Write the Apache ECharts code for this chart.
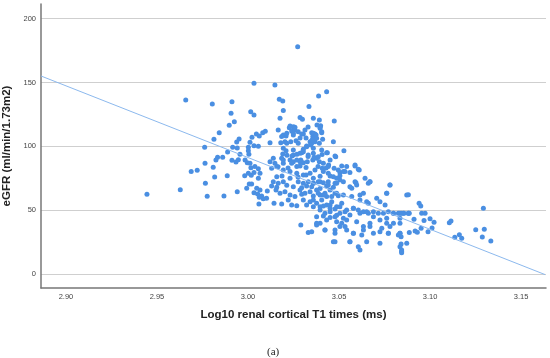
<!DOCTYPE html>
<html>
<head>
<meta charset="utf-8">
<script src="https://cdn.jsdelivr.net/npm/echarts@6/dist/echarts.min.js"></script>
<style>html,body{margin:0;padding:0;background:#fff}#c{width:550px;height:358px}</style>
</head>
<body>
<div id="c"></div>
<script>
// Log10 renal cortical T1 times (ms)
const t1Log = [
2.9445,2.9628,2.9688,2.9721,2.9658,
3.0033,2.9804,2.9912,2.9907,3.0015,3.0033,2.9925,2.9897,2.9842,2.9813,2.9762,2.9916,2.9941,2.9951,2.9938,3.0011,3.0022,3.0046,3.0062,3.0081,3.0095,3.0033,3.0057,3.0002,
2.9888,2.9956,3.0002,3.0005,2.9833,2.9861,2.9824,2.9912,2.9934,2.9947,2.9984,2.9996,3.0011,2.9764,2.9809,3.0038,3.0057,3.0016,2.9886,2.9817,2.9982,3.0002,3.0018,3.0033,3.0066,3.0057,2.9766,3.0007,3.0020,2.9993,3.0048,3.0066,3.0033,3.0053,3.0075,3.0084,3.0102,3.0062,2.9941,2.9776,2.9868,3.0060,3.0106,
3.0148,3.0432,3.0388,3.0172,3.0191,3.0194,3.0335,3.0176,3.0286,3.0299,3.0359,3.0392,3.0474,3.0399,3.0396,3.0405,3.0166,3.0227,3.0249,3.0240,3.0258,3.0249,3.0304,3.0194,3.0209,3.0350,3.0368,3.0356,3.0410,3.0469,3.0121,3.0180,3.0213,3.0235,3.0264,3.0276,3.0341,3.0359,3.0368,3.0344,3.0322,3.0392,3.0194,3.0209,3.0191,3.0249,3.0304,3.0295,3.0359,3.0436,3.0527,3.0482,3.0139,3.0121,3.0148,3.0158,3.0130,3.0185,3.0194,3.0231,3.0249,3.0268,3.0290,3.0304,3.0326,3.0356,3.0377,3.0392,3.0451,3.0443,3.0408,3.0515,3.0505,3.0533,3.0560,3.0588,3.0611,3.0194,3.0231,3.0268,3.0304,3.0341,3.0368,3.0414,3.0451,3.0487,3.0359,3.0231,3.0158,
3.0139,3.0166,3.0194,3.0154,3.0176,3.0203,3.0143,3.0185,3.0221,3.0240,
3.0276,3.0304,3.0331,3.0359,3.0386,3.0414,3.0441,3.0478,
3.0286,3.0313,3.0341,3.0377,3.0396,3.0423,3.0451,3.0487,
3.0304,3.0341,3.0377,3.0405,3.0432,3.0460,3.0487,3.0515,
3.0396,3.0423,3.0451,3.0478,3.0505,3.0533,3.0560,3.0542,3.0515,3.0487,3.0432,3.0396,3.0377,
3.0579,3.0606,3.0634,3.0661,3.0689,3.0716,3.0744,3.0771,3.0799,3.0826,3.0853,3.0881,
3.0593,3.0670,3.0780,3.0762,3.0872,3.0615,3.0652,3.0725,3.0753,
3.0290,3.0331,3.0350,3.0377,3.0423,3.0478,3.0469,3.0560,3.0615,3.0505,3.0579,3.0542,3.0634,3.0670,3.0652,3.0689,3.0725,3.0771,3.0762,3.0799,3.0835,3.0844,3.0872,3.0597,3.0625,
3.0881,3.0940,3.0949,3.0835,3.0857,3.0886,3.0954,3.0973,3.0835,3.0912,3.0967,3.1000,3.1022,3.1293,3.1106,3.1115,3.1011,3.0951,3.0918,3.0930,3.0886,3.0989,3.0835,3.0841,3.0841,3.0844,3.0844,3.1136,3.1161,3.1174,3.1251,3.1298,3.1287,3.1334,
3.0231,3.0258,3.0249,3.0276,3.0295,3.0359,3.0374,3.0396,3.0405,3.0377,3.0350,3.0322,3.0304,3.0286,3.0331,3.0359,3.0386,3.0405,3.0432,3.0478,3.0414,3.0441,3.0496,3.0524,3.0606,3.0588,3.0542,3.0643,3.0588,3.0661,3.0570,3.0505,3.0469,3.0441,3.0249,3.0203,3.0185,3.0213,3.0194,3.0240,3.0268,3.0286,
3.0359,3.0396,3.0441,3.0487,3.0524,3.0560,3.0597,3.0634,3.0670,3.0780,3.0762,3.0707,3.0661,3.0615,3.0570,3.0524,3.0478,3.0432,3.0386,3.0359,3.0396,3.0451,3.0505,3.0542,3.0579,3.0615,3.0652,3.0689,3.0725,3.0762,3.0799,3.0844,3.0881,3.0835,3.0780,3.0735,3.0670,3.0634,3.0579,3.0533,3.0478,3.0423,3.0377,3.0478,3.0560,3.0606,3.0725,3.0771,3.0826,3.0835,
3.0130,3.0158,3.0213,3.0249,3.0295,3.0322,3.0350,3.0396,3.0432,3.0469,
3.0231,3.0258,3.0295,3.0359,3.0414,3.0460,3.0496,
3.0268,3.0322,3.0359,3.0414,3.0451,3.0478,
3.0414,3.0451,3.0487,3.0524,
3.0214,3.0242,3.0269,3.0330,3.0363,3.0407,
3.0165,3.0220,3.0286,3.0319,3.0385,3.0429,3.0473,
3.0187,3.0275,3.0319,3.0396,3.0505,
3.0313,3.0330,3.0379,3.0352,3.0319,3.0286,
3.0273
];
// eGFR (ml/min/1.73m2)
const egfr = [
62.4,66,80.2,81.2,136.3,
149.4,133.2,135,126,127,124.6,119.3,116.5,110.7,105.5,99.3,99.3,98.7,105.8,103.4,103.1,107.1,109.7,108.1,110.7,111.8,100.5,100,99.3,
95.6,93.8,96.6,93.8,91.4,91.4,89.3,89.1,87.7,89.5,89.3,87.2,86.7,86.7,83.6,84.1,82.5,83.3,77,76,77,78.9,77.3,79.4,78.9,75,71,70.5,70.5,67.1,67.1,65.8,63.7,62.7,61.1,59,59.3,60.1,64.5,60.9,61.1,54.8,65,
148,142.8,139.4,136.9,135.5,128,131.1,122,122.5,121.2,122,120.6,119.9,116.2,114.1,111.5,112.8,114.6,115.4,112,112.8,108.9,109.7,108.9,108.1,110.7,109.7,107.6,105.5,103.6,102.8,102.8,102.4,103.6,104.4,102.4,103.6,106.3,103.6,101,100.3,102.4,98.5,96.6,94,97.1,97.7,95,98.5,95,96.6,91.9,90.6,88,86.7,84.1,82.8,90.6,86.7,89.3,88,89.3,89.3,87.2,88,89.3,90.6,88,89.3,85.4,82.8,84.6,79.4,80.2,79.4,84.6,81.5,81.5,80.2,78.9,77.6,78.9,81.5,80.2,76.8,75,75,75,76.2,
72.3,71,72.3,65.8,63.2,64.5,55.4,54.8,58,54.1,
72.3,71,72.3,71,72.3,71.5,72.3,71,
65.8,63.2,64.5,65.8,61.9,63.2,65.8,63.2,
58,56.6,55.4,58,54.1,56.6,52.7,55.4,
50.1,47.5,48.8,44.9,47.5,48.8,46.2,42.3,39.7,41,42.3,39.7,44.9,
51.5,50.1,48.8,47.5,48.8,47.5,47.5,48.8,47.5,47.5,47.5,47.5,
71.5,72.3,69.7,63.2,61.9,61.9,56.6,56.6,54.1,
38.4,32.4,33.1,38.4,34.5,31.9,25.3,25.3,18.8,37.1,31.9,34.5,37.1,37.1,25.3,31.9,33.1,31.9,39.7,39.7,31.9,17.5,24.1,41,30.6,
62.1,55.4,53.3,47.5,47.5,47.5,47.5,47.5,43.6,42.9,41.8,43.3,40.5,51.5,40.2,41.5,36,35.8,33.7,32.7,32.4,33.1,31.9,29.2,23.5,18.8,16.7,28.8,30.8,28,34.7,35,29,25.9,
115.9,114.9,110.2,111.5,109.7,110.2,108.9,115.4,110.7,106.3,102.4,99.7,95.8,94.6,93.2,94.6,91.9,97.1,95,92.4,86.7,84.1,81.5,80.2,82,85.4,84.1,75,72.3,71,67.1,73.6,76.2,78.9,93.2,103.6,107.6,110.2,89.3,86.7,84.1,88,
71,72.3,69.7,71,72.3,68.4,69.7,63.2,72.3,69.7,63.2,59.3,55.4,58,60.6,61.9,63.2,60.6,63.2,58,52.7,54.1,52.7,50.1,51.5,47.5,48.8,44.9,42.3,43.6,47.5,47.5,47.5,39.7,37.1,35.8,39.7,34.5,31.9,37.1,34.5,34.5,39.7,25.3,25.3,21.4,24.1,31.9,30.6,21.4,
68.9,68,69.5,68.4,67.6,69,68.4,67,68.9,68,
61.9,60.6,62.5,61,61.9,60.6,61.3,
53.5,54.1,52.7,53.3,51.5,50.8,
45.5,44.2,46,43.6,
93,92.5,93.8,92,91.5,93.5,
84,83,84.5,83.5,84.2,83,82.8,
76.8,76,77.5,76.5,77,
112.8,115.2,116.7,105,106.5,106.5,
178.1
];
// fit line end points
const fitX = [2.8863, 3.1632];
const fitY = [155.1, -0.5];
const xTicks = [2.90, 2.95, 3.00, 3.05, 3.10, 3.15];
const yTicks = [0, 50, 100, 150, 200];

const points = t1Log.map((x, i) => [x, egfr[i]]);
const fit = fitX.map((x, i) => [x, fitY[i]]);

const chart = echarts.init(document.getElementById('c'), null, {renderer: 'canvas'});
chart.setOption({
  animation: false,
  backgroundColor: '#fff',
  title: {
    text: '(a)', left: 262, top: 342,
    textStyle: {fontFamily: 'Liberation Serif', fontWeight: 'normal', fontSize: 11, color: '#222'}
  },
  grid: {left: 41, right: 4, top: 4, bottom: 70, containLabel: false, outerBoundsMode: 'none'},
  xAxis: {
    type: 'value', min: 2.8863, max: 3.1637,
    name: 'Log10 renal cortical T1 times (ms)', nameLocation: 'middle', nameGap: 21,
    nameTextStyle: {fontFamily: 'Liberation Sans', fontWeight: 'bold', fontSize: 11.5, color: '#222'},
    axisLine: {show: true, onZero: false, lineStyle: {color: '#777', width: 1.5}},
    axisTick: {show: false, customValues: xTicks},
    axisLabel: {customValues: xTicks, formatter: v => v.toFixed(2), fontFamily: 'Liberation Sans', fontSize: 7.5, color: '#444', margin: 5},
    splitLine: {show: false}
  },
  yAxis: {
    type: 'value', min: -11, max: 211.5,
    name: 'eGFR (ml/min/1.73m2)', nameLocation: 'middle', nameGap: 21,
    nameTextStyle: {fontFamily: 'Liberation Sans', fontWeight: 'bold', fontSize: 11.5, color: '#222'},
    axisLine: {show: true, onZero: false, lineStyle: {color: '#777', width: 1.5}},
    axisTick: {show: false, customValues: yTicks},
    axisLabel: {customValues: yTicks, fontFamily: 'Liberation Sans', fontSize: 7.5, color: '#444', margin: 5},
    splitLine: {show: true, lineStyle: {color: '#cfcfcf', width: 1}}
  },
  series: [
    {type: 'scatter', data: points, symbolSize: 5, itemStyle: {color: '#4a8fe2', opacity: 1}, silent: true},
    {type: 'line', data: fit, symbol: 'none', silent: true, lineStyle: {color: '#8cb9ee', width: 1}, z: 3}
  ]
});
</script>
</body>
</html>
